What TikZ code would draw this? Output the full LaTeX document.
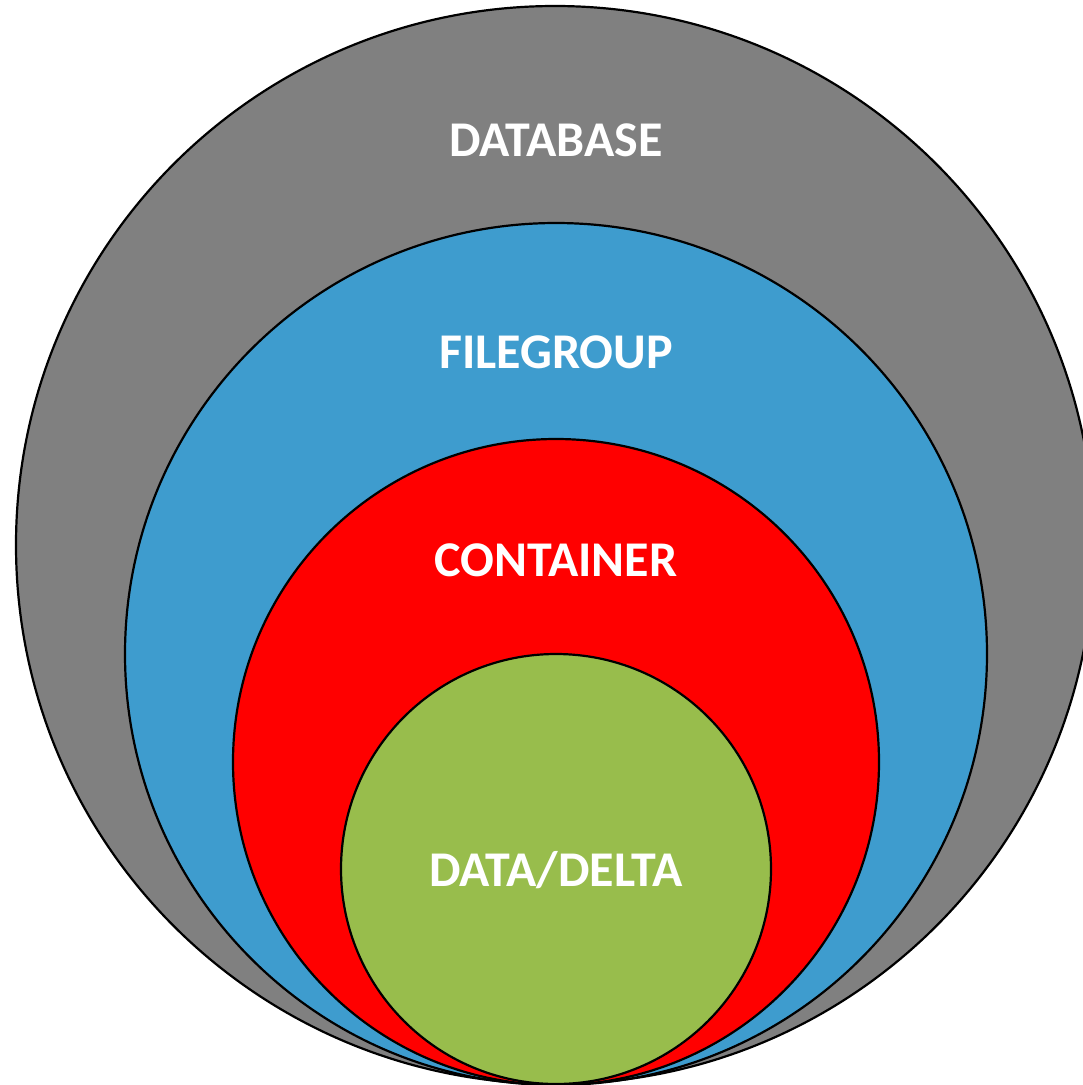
\documentclass[tikz,border=0pt]{standalone}
\usepackage{fontspec}
\setmainfont{Carlito}
\definecolor{dbgrey}{HTML}{808080}
\definecolor{fgblue}{HTML}{3E9CCE}
\definecolor{ctred}{HTML}{FF0000}
\definecolor{ddgreen}{HTML}{98BD4C}
\begin{document}
\begin{tikzpicture}[x=1pt,y=-1pt,
  ring/.style={draw=black,line width=2.2pt},
  lbl/.style={text=white,font=\fontsize{50}{54}\selectfont\bfseries,inner sep=0pt}]
\useasboundingbox (0,0) rectangle (1083,1085);
\begin{scope}
\clip (0,0) rectangle (1083,1085);
\fill[dbgrey] (555,545) circle[radius=539];
\draw[ring] (555,545) circle[radius=539];
\fill[fgblue] (556,654) circle[radius=431];
\draw[ring] (556,654) circle[radius=431];
\fill[ctred] (556,762) circle[radius=323];
\draw[ring] (556,762) circle[radius=323];
\fill[ddgreen] (556,869) circle[radius=215];
\draw[ring] (556,869) circle[radius=215];
\end{scope}
\node[lbl] (database) at (556,140) {DATABASE};
\node[lbl] (filegroup) at (556,352) {FILEGROUP};
\node[lbl] (container) at (556,560) {CONTAINER};
\node[lbl] (datadelta) at (556,870) {DATA/DELTA};
\end{tikzpicture}
\end{document}
